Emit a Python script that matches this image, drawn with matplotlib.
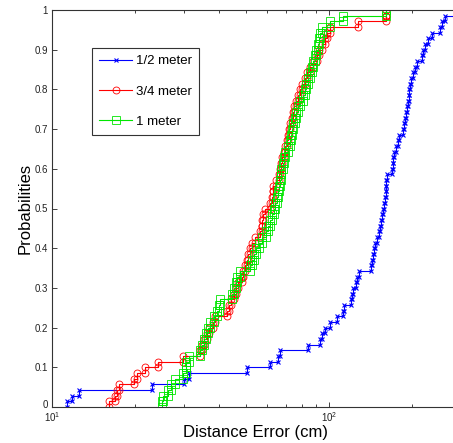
import numpy as np
import matplotlib
matplotlib.use("Agg")
import matplotlib.pyplot as plt
import matplotlib.transforms as mtransforms
from matplotlib.ticker import FixedLocator, FixedFormatter, LogLocator

plt.rcParams['font.family'] = ['Liberation Sans', 'DejaVu Sans']
plt.rcParams['mathtext.fontset'] = 'custom'
plt.rcParams['mathtext.rm'] = 'Liberation Sans'
plt.rcParams['mathtext.it'] = 'Liberation Sans:italic'

# Distance errors (cm) per grid spacing, read from the empirical CDF
half_meter = [11.3, 11.84, 12.5, 23.0, 30.0, 31.2, 50.5, 61.2, 65.3, 66.5,
              83.8, 93.0, 94.3, 97.2, 100.8, 107.2, 112.6, 113.5, 120.1, 121.3,
              122.4, 124.9, 126.6, 128.7, 141.8, 142.9, 144.2, 145.1, 146.6, 148.7,
              151.6, 153.5, 154.7, 155.7, 156.6, 158.0, 159.3, 160.2, 160.6, 161.0,
              161.5, 169.3, 170.2, 170.7, 172.4, 174.1, 177.0, 178.9, 185.4, 186.5,
              188.1, 189.7, 191.3, 192.4, 194.5, 195.3, 196.1, 197.2, 201.5, 204.4,
              207.3, 216.1, 219.4, 222.2, 228.4, 234.9, 251.6, 255.2, 262.3, 300.0]

three_quarter_meter = [16.1, 16.9, 17.2, 17.4, 19.7, 20.2, 21.7, 24.2, 29.8, 34.2,
                       34.8, 35.5, 36.3, 36.9, 38.1, 38.8, 42.8, 43.6, 44.3, 45.4,
                       46.2, 47.1, 48.4, 49.0, 49.8, 50.5, 51.1, 51.9, 52.6, 54.1,
                       56.3, 57.1, 57.5, 57.9, 58.7, 61.2, 62.1, 62.6, 63.0, 64.4,
                       66.0, 66.6, 67.1, 67.9, 69.0, 69.7, 70.5, 71.3, 72.0, 72.6,
                       73.3, 74.1, 74.7, 76.0, 77.3, 78.6, 79.9, 81.9, 83.6, 85.4,
                       87.8, 90.3, 92.0, 94.1, 96.7, 98.1, 100.8, 127.6, 160.6, 161.0]

one_meter = [24.9, 25.1, 26.2, 27.0, 27.9, 29.8, 30.5, 30.6, 31.3, 34.2,
             34.9, 35.4, 36.1, 36.7, 37.2, 38.4, 39.4, 40.1, 40.4, 44.7,
             45.4, 46.0, 46.6, 47.7, 51.9, 52.7, 53.6, 54.7, 55.9, 57.1,
             59.2, 60.4, 61.2, 62.5, 63.3, 63.8, 64.7, 65.6, 66.0, 66.6,
             67.1, 67.4, 68.2, 69.0, 69.7, 71.1, 72.3, 73.2, 73.8, 74.3,
             75.4, 76.3, 77.3, 78.6, 80.6, 81.9, 83.0, 84.2, 85.4, 86.6,
             87.9, 89.0, 90.1, 91.5, 92.4, 92.8, 94.1, 100.8, 112.6, 160.6]

labels = ['1/2 meter', '3/4 meter', '1 meter']
ytick_vals = [0, 0.1, 0.2, 0.3, 0.4, 0.5, 0.6, 0.7, 0.8, 0.9, 1]
ytick_labels = ['0', '0.1', '0.2', '0.3', '0.4', '0.5', '0.6', '0.7', '0.8', '0.9', '1']


def stair_vertices(vals):
    v = np.sort(np.asarray(vals, dtype=float))
    n = len(v)
    xs = np.repeat(v, 2)
    ys = np.empty(2 * n)
    ys[0::2] = np.arange(n) / n
    ys[1::2] = np.arange(1, n + 1) / n
    return xs, ys


W, H = 453, 443
fig = plt.figure(figsize=(W / 100, H / 100), dpi=100)
left_px, right_px, top_px, bot_px = 52, 461, 10, 407
ax = fig.add_axes([left_px / W, (H - bot_px) / H, (right_px - left_px) / W, (bot_px - top_px) / H])

styles = [dict(color=(0, 0, 1), marker='x', ms=3.2, mew=0.8),
          dict(color=(1, 0, 0), marker='o', ms=5, mew=0.6, mfc='none'),
          dict(color=(0, 0.9, 0), marker='s', ms=5.5, mew=0.6, mfc='none')]

for data, lab, st in zip([half_meter, three_quarter_meter, one_meter], labels, styles):
    xs, ys = stair_vertices(data)
    ax.plot(xs, ys, lw=0.8, label=lab, **st)

ax.set_xscale('log')
ax.set_xlim(10, 300)
ax.set_ylim(0, 1)
ax.yaxis.set_major_locator(FixedLocator(ytick_vals))
ax.yaxis.set_major_formatter(FixedFormatter(ytick_labels))
ax.xaxis.set_major_locator(LogLocator(base=10, numticks=10))
ax.xaxis.set_minor_locator(LogLocator(base=10, subs=np.arange(2, 10), numticks=20))

ax.tick_params(which='both', direction='in', top=True, right=True, labelsize=7,
               width=0.6, colors='#222222')
ax.tick_params(which='major', length=3.5, pad=3)
ax.tick_params(axis='x', which='major', pad=2.5)
ax.tick_params(which='minor', length=2)
ax.tick_params(axis='x', which='minor', labelbottom=False)
for s in ax.spines.values():
    s.set_linewidth(0.8)
    s.set_color('#333333')

# nudge the "0" label up slightly so it clears the 10^1 label
zero_lbl = ax.yaxis.get_major_ticks()[0].label1
zero_lbl.set_transform(zero_lbl.get_transform() +
                       mtransforms.ScaledTranslation(0, 2.5 / 100, fig.dpi_scale_trans))

ax.set_xlabel('Distance Error (cm)', fontsize=12)
ax.set_ylabel('Probabilities', fontsize=12)
ax.xaxis.set_label_coords((256 - left_px) / (right_px - left_px), (bot_px - 425) / (bot_px - top_px))
ax.yaxis.set_label_coords((33 - left_px) / (right_px - left_px), 0.5)

leg = ax.legend(loc='upper left',
                bbox_to_anchor=((92 - left_px) / (right_px - left_px), (bot_px - 48) / (bot_px - top_px)),
                fontsize=9.5, numpoints=1, fancybox=False, framealpha=1,
                edgecolor='#333333', handlelength=2.5, handletextpad=0.25,
                labelspacing=1.35, borderpad=0.55, borderaxespad=0)
leg.get_frame().set_linewidth(0.8)

fig.savefig('out.png', dpi=100)
